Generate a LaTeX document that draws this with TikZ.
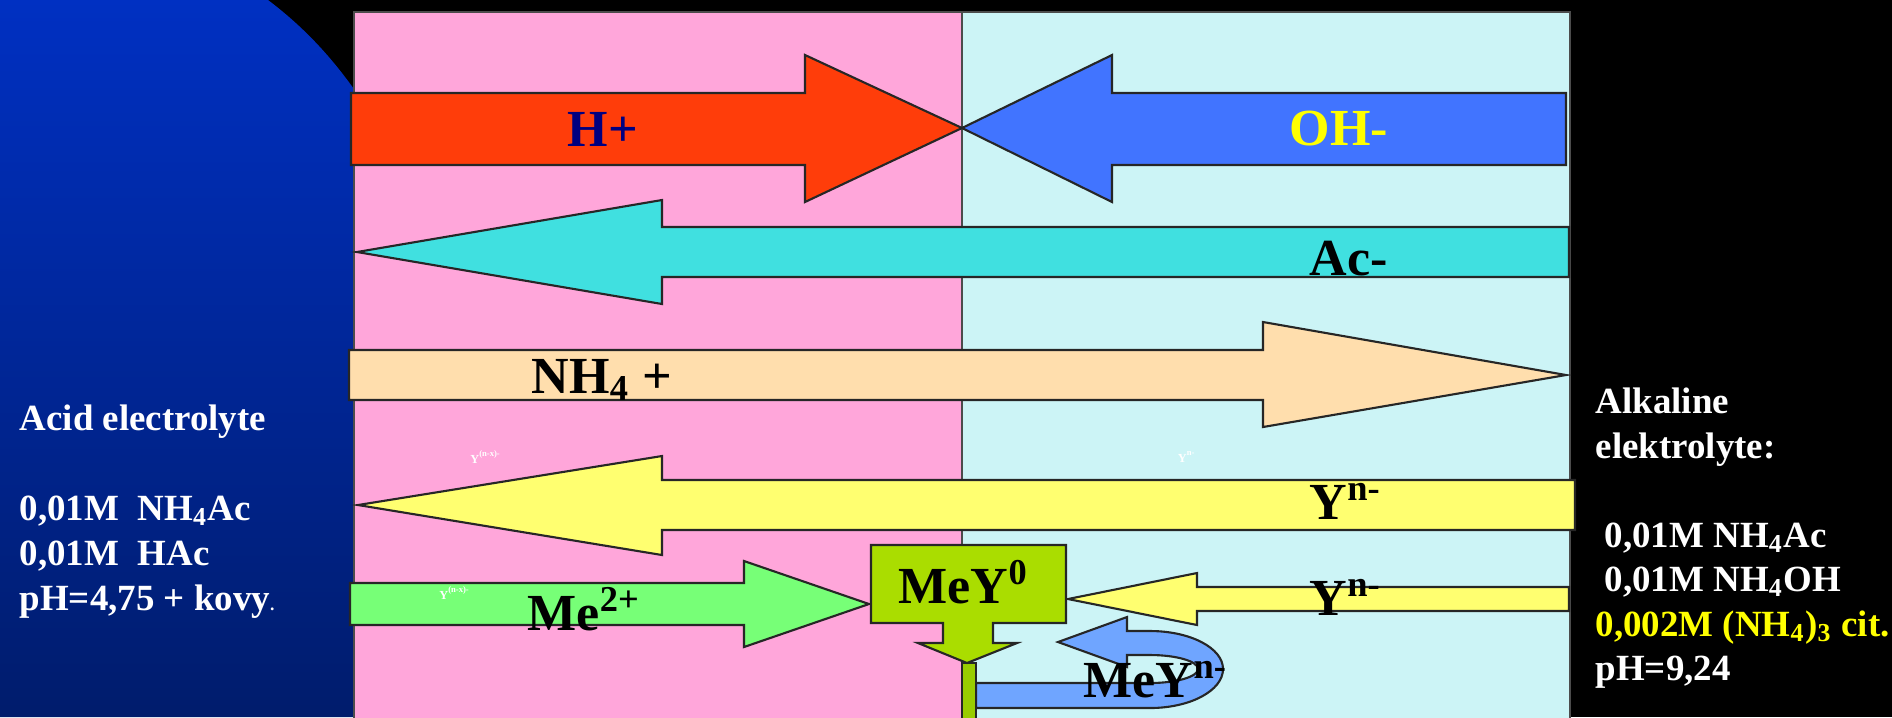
\documentclass[tikz,border=0pt]{standalone}
\usepackage{fontspec}
\setmainfont{Liberation Serif}
\definecolor{pinkbg}{RGB}{255,166,218}
\definecolor{cyanbg}{RGB}{204,244,246}
\definecolor{hcol}{RGB}{255,61,10}
\definecolor{ohcol}{RGB}{65,116,255}
\definecolor{accol}{RGB}{64,224,224}
\definecolor{nhcol}{RGB}{255,222,173}
\definecolor{ycol}{RGB}{255,255,112}
\definecolor{mecol}{RGB}{119,255,119}
\definecolor{meycol}{RGB}{170,221,0}
\definecolor{barcol}{RGB}{153,204,0}
\definecolor{meyncol}{RGB}{111,165,255}
\definecolor{navytext}{RGB}{0,0,128}
\definecolor{yeltext}{RGB}{255,255,0}
\definecolor{bgtop}{RGB}{0,48,194}
\definecolor{bgmid}{RGB}{0,42,170}
\definecolor{bgbot}{RGB}{0,28,108}
\begin{document}
\begin{tikzpicture}[x=0.01cm,y=-0.01cm,
  arr/.style={draw=black!85,line width=0.6pt,line join=miter},
  big/.style={font=\bfseries\fontsize{14.8}{16}\selectfont,inner sep=0pt,anchor=base west},
  side/.style={font=\bfseries\fontsize{10.5}{12}\selectfont,text=white,inner sep=0pt,anchor=base west},
  tinytext/.style={font=\bfseries\fontsize{3.5}{4}\selectfont,text=white,inner sep=0pt}]
\useasboundingbox (0,0) rectangle (1892,717);
\fill[black] (0,0) rectangle (1892,717);
\shade[top color=bgtop, middle color=bgmid, bottom color=bgbot]
  (0,0) -- (268,0) .. controls (305,28) and (335,60) .. (365,105) -- (365,717) -- (0,717) -- cycle;
% panels
\filldraw[fill=pinkbg, draw=black!70, line width=0.5pt] (354,12) rectangle (962,720);
\filldraw[fill=cyanbg, draw=black!70, line width=0.5pt] (962,12) rectangle (1570,720);
% arrows
\filldraw[arr, fill=hcol] (351,93) -- (805,93) -- (805,55) -- (962,128) -- (805,202) -- (805,165) -- (351,165) -- cycle;
\filldraw[arr, fill=ohcol] (1566,93) -- (1112,93) -- (1112,55) -- (962,128) -- (1112,202) -- (1112,165) -- (1566,165) -- cycle;
\filldraw[arr, fill=accol] (1569,227) -- (662,227) -- (662,200) -- (357,252) -- (662,304) -- (662,277) -- (1569,277) -- cycle;
\filldraw[arr, fill=nhcol] (349,350) -- (1263,350) -- (1263,322) -- (1566,375) -- (1263,427) -- (1263,400) -- (349,400) -- cycle;
\filldraw[arr, fill=ycol] (1575,480) -- (662,480) -- (662,456) -- (358,505) -- (662,555) -- (662,530) -- (1575,530) -- cycle;
\filldraw[arr, fill=mecol] (350,583) -- (744,583) -- (744,561) -- (869,604) -- (744,647) -- (744,625) -- (350,625) -- cycle;
\filldraw[arr, fill=ycol] (1569,587) -- (1197,587) -- (1197,573) -- (1068,599) -- (1197,625) -- (1197,611) -- (1569,611) -- cycle;
% U-turn MeY^n- arrow
\filldraw[arr, fill=meyncol] (976,683) -- (1150,683) .. controls (1176.5,683) and (1198,676.7) .. (1198,669)
  .. controls (1198,661.3) and (1176.5,655) .. (1150,655) -- (1127,655) -- (1127,667) -- (1058,642) -- (1127,617)
  -- (1127,631) -- (1150,631) .. controls (1190.3,631) and (1223,648) .. (1223,669)
  .. controls (1223,690.5) and (1190.3,708) .. (1150,708) -- (976,708) -- cycle;
% bar and MeY0 box
\filldraw[arr, fill=barcol] (962,663) rectangle (976,720);
\filldraw[arr, fill=meycol] (871,545) -- (1066,545) -- (1066,623) -- (993,623) -- (993,643) -- (1017,643) -- (967,663)
  -- (918,643) -- (943,643) -- (943,623) -- (871,623) -- cycle;
% labels
\node[big,text=navytext] (hplus) at (567,146) {H+};
\node[big,text=yeltext] (ohminus) at (1289,145) {OH-};
\node[big] (acminus) at (1309,275) {Ac-};
\node[big] (nh4) at (531,393) {NH\textsubscript{4} +};
\node[big] (yn1) at (1309,519) {Y\textsuperscript{n-}};
\node[big] (me2) at (527,630) {Me\textsuperscript{2+}};
\node[big] (mey0) at (898,603) {MeY\textsuperscript{0}};
\node[big] (yn2) at (1309,615) {Y\textsuperscript{n-}};
\node[big] (meyn) at (1083,697) {MeY\textsuperscript{n-}};
\node[tinytext] (t1) at (486,457) {Y\textsuperscript{(n-x)-}};
\node[tinytext] (t2) at (1187,457) {Y\textsuperscript{n-}};
\node[tinytext] (t3) at (455,593) {Y\textsuperscript{(n-x)-}};
% side texts
\node[side] (l1) at (19,430) {Acid electrolyte};
\node[side] (l2) at (19,520) {0,01M\ \ NH\textsubscript{4}Ac};
\node[side] (l3) at (19,565) {0,01M\ \ HAc};
\node[side] (l4) at (19,610) {pH=4,75 + kovy{\fontsize{5}{6}\selectfont .}};
\node[side] (r1) at (1595,413) {Alkaline};
\node[side] (r2) at (1595,458) {elektrolyte:};
\node[side] (r3) at (1604,547) {0,01M NH\textsubscript{4}Ac};
\node[side] (r4) at (1604,591) {0,01M NH\textsubscript{4}OH};
\node[side,text=yeltext] (r5) at (1595,636) {0,002M (NH\textsubscript{4})\textsubscript{3} cit.};
\node[side] (r6) at (1595,680) {pH=9,24};
\end{tikzpicture}
\end{document}
